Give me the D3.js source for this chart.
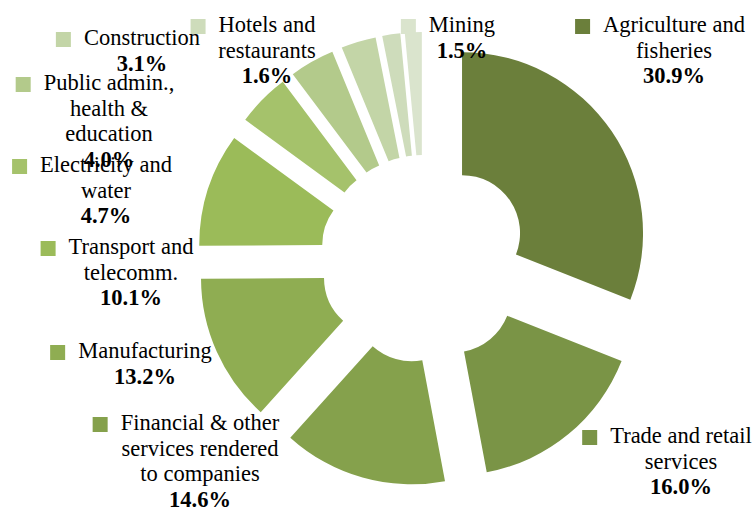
<!DOCTYPE html>
<html>
<head>
<meta charset="utf-8">
<script src="https://cdn.jsdelivr.net/npm/d3@7"></script>
<style>
   body { margin: 0; background: #fff; }
</style>
</head>
<body>
<div id="chart"></div>
<script>
// sectors, clockwise from 12 o'clock
var categories = ["Agriculture and\nfisheries", "Trade and retail\nservices", "Financial & other\nservices rendered\nto companies",
   "Manufacturing", "Transport and\ntelecomm.", "Electricity and\nwater", "Public admin.,\nhealth &\neducation",
   "Construction", "Hotels and\nrestaurants", "Mining"];
var shares = [30.9, 16.0, 14.6, 13.2, 10.1, 4.7, 4.0, 3.1, 1.6, 1.5];
var colors = ["#6b7f3b", "#7a9446", "#85a14c", "#8fad52", "#9bbb59", "#a5c26b", "#b3ca8b", "#c3d5a7", "#cedcbb", "#dae4cd"];

// where each label block sits (centre x, first baseline)
var labelAt = [[674, 32], [681, 443], [200, 430], [145, 358], [131, 254], [106, 172], [109, 90], [142, 45], [267, 32], [462, 32]];

var w = 755, h = 508;
var cx = 424, cy = 259;
var rIn = 58, rOut = 181, explode = 46;
var lineH = 25.7;
var font = "'Liberation Serif', 'Times New Roman', Times, serif";

var svg = d3.select("#chart").append("svg")
   .attr("width", w)
   .attr("height", h);

var pie = d3.pie().sort(null).value(function(d) { return d; });
var arcs = pie(shares);

var arc = d3.arc().innerRadius(rIn).outerRadius(rOut);

svg.append("g")
   .attr("transform", "translate(" + cx + "," + cy + ")")
   .selectAll("path")
   .data(arcs)
   .enter()
   .append("path")
   .attr("d", arc)
   .attr("fill", function(d, i) { return colors[i]; })
   .attr("transform", function(d) {
      var mid = (d.startAngle + d.endAngle) / 2;
      return "translate(" + (explode * Math.sin(mid)) + "," + (-explode * Math.cos(mid)) + ")";
   });

// labels
var fmt = d3.format(".1f");
var labels = svg.selectAll("g.lab")
   .data(categories)
   .enter()
   .append("g")
   .attr("class", "lab");

labels.each(function(name, i) {
   var g = d3.select(this);
   var lines = name.split("\n");
   var x = labelAt[i][0], y = labelAt[i][1];
   var first = null;
   lines.forEach(function(t, k) {
      var tx = g.append("text")
         .attr("x", x)
         .attr("y", y + k * lineH)
         .attr("text-anchor", "middle")
         .attr("font-family", font)
         .attr("font-size", 22.5)
         .attr("fill", "#000")
         .text(t);
      if (k == 0) first = tx;
   });
   g.append("text")
      .attr("x", x)
      .attr("y", y + lines.length * lineH)
      .attr("text-anchor", "middle")
      .attr("font-family", font)
      .attr("font-size", 22.5)
      .attr("font-weight", "bold")
      .attr("fill", "#000")
      .text(fmt(shares[i]) + "%");

   var tw = first.node().getComputedTextLength();
   g.append("rect")
      .attr("x", x - tw / 2 - 28)
      .attr("y", y - 13)
      .attr("width", 15)
      .attr("height", 15)
      .attr("fill", colors[i]);
});
</script>
</body>
</html>
